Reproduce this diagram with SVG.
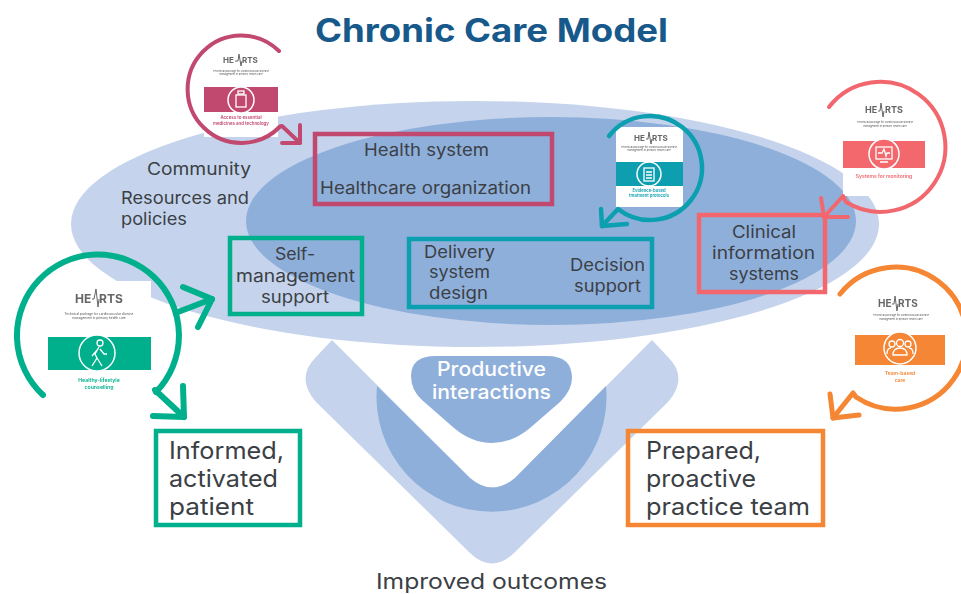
<svg xmlns="http://www.w3.org/2000/svg" width="961" height="594" viewBox="0 0 961 594">
<defs><style>
text{font-family:"Inter","Noto Sans","Liberation Sans",sans-serif;fill:#3b4045}
.b{font-size:17px}.l{font-size:24px}.w{font-size:20px;fill:#fff;font-weight:500}
.box{fill:none;stroke-width:4.5}
.arc{fill:none;stroke-linecap:round;stroke-linejoin:round}
.card{fill:#fff}
.logo{font-weight:700;fill:#666}
.sp{fill:none;stroke:#666;stroke-width:1}
.tiny{font-size:2.6px;fill:#555}
.ic{fill:none;stroke:#fff;stroke-width:1.3}
.cap{font-size:5px;font-weight:600}
.light{fill:#c5d4ec}.mid{fill:#8fafdb}
</style>
<filter id="soft" x="-5%" y="-5%" width="110%" height="110%"><feGaussianBlur stdDeviation="0.45"/></filter>
</defs>
<rect width="961" height="594" fill="#fff"/>
<g id="background">
<ellipse class="light" cx="475" cy="224" rx="404" ry="123"/>
<ellipse class="mid" cx="551" cy="221" rx="305" ry="104"/>
<path class="light" d="M332,340L470,478Q492,497 515,478L652,340L668,357Q689,378 668,402L514,553Q492,574 470,553L316,402Q295,378 316,357Z"/>
<path class="mid" d="M377,386L470,478Q492,497 515,478L606,386A115,115 0 1 1 377,386Z"/>
<path class="mid" d="M436,356H547Q572,356 572,378Q572,390 560,402L530,428Q512,443 492,443Q472,443 454,428L422,400Q411,390 411,376Q411,356 436,356Z"/>
</g>
<text x="315" y="42" font-size="32" font-weight="700" style="fill:#17598a" textLength="353" lengthAdjust="spacingAndGlyphs">Chronic Care Model</text>
<g id="card-medicines" filter="url(#soft)">
<rect class="card" x="204" y="48" width="74" height="89"/>
<text class="logo" x="223" y="63" style="font-size:8px">HE</text><polyline class="sp" points="235,61 238,61 239,54 241,66 242,61"/><text class="logo" x="242" y="63" style="font-size:8px">RTS</text>
<text class="tiny" x="241" y="72" text-anchor="middle">Technical package for cardiovascular disease</text>
<text class="tiny" x="241" y="75" text-anchor="middle">management in primary health care</text>
<rect x="204" y="87" width="74" height="25" fill="#c1496f"/>
<circle cx="241" cy="100" r="13" fill="#c1496f" stroke="#fff" stroke-width="1.5"/>
<rect class="ic" x="236" y="95" width="10" height="12"/><rect class="ic" x="238" y="91" width="6" height="3"/>
<text class="cap" x="241" y="119" text-anchor="middle" style="font-size:4.4px;fill:#c1496f">Access to essential</text>
<text class="cap" x="241" y="125" text-anchor="middle" style="font-size:4.4px;fill:#c1496f">medicines and technology</text>
</g>
<g id="card-protocols" filter="url(#soft)">
<rect class="card" x="616" y="127" width="67" height="80"/>
<text class="logo" x="634" y="141" style="font-size:8px">HE</text><polyline class="sp" points="646,139 648,139 649,132 651,144 652,139"/><text class="logo" x="652" y="141" style="font-size:8px">RTS</text>
<text class="tiny" x="649" y="148" text-anchor="middle">Technical package for cardiovascular disease</text>
<text class="tiny" x="649" y="151" text-anchor="middle">management in primary health care</text>
<rect x="616" y="162" width="67" height="24" fill="#0c9fb0"/>
<circle cx="649" cy="174" r="12" fill="#0c9fb0" stroke="#fff" stroke-width="1.5"/>
<rect class="ic" x="644" y="168" width="10" height="13"/><path class="ic" d="M646,172H652M646,175H652M646,178H652"/>
<text class="cap" x="649" y="192" text-anchor="middle" style="font-size:4.2px;fill:#0c9fb0">Evidence-based</text>
<text class="cap" x="649" y="197" text-anchor="middle" style="font-size:4.2px;fill:#0c9fb0">treatment protocols</text>
</g>
<g id="card-monitoring" filter="url(#soft)">
<rect class="card" x="843" y="97" width="82" height="99"/>
<text class="logo" x="865" y="113" style="font-size:9px">HE</text><polyline class="sp" points="878,111 880,111 881,103 883,117 884,111"/><text class="logo" x="885" y="113" style="font-size:9px">RTS</text>
<text class="tiny" x="885" y="123" text-anchor="middle">Technical package for cardiovascular disease</text>
<text class="tiny" x="885" y="127" text-anchor="middle">management in primary health care</text>
<rect x="843" y="141" width="82" height="27" fill="#f2676d"/>
<circle cx="884" cy="154" r="15" fill="#f2676d" stroke="#fff" stroke-width="1.5"/>
<rect class="ic" x="876" y="147" width="16" height="12"/><path class="ic" d="M878,153H882L884,149L886,156L887,153H890M880,162H888"/>
<text class="cap" x="884" y="178" text-anchor="middle" style="fill:#f2676d">Systems for monitoring</text>
</g>
<g id="card-lifestyle" filter="url(#soft)">
<rect class="card" x="48" y="281" width="103" height="124"/>
<text class="logo" x="75" y="303" style="font-size:12px">HE</text><polyline class="sp" points="92,299 94,299 96,289 98,307 99,299"/><text class="logo" x="99" y="303" style="font-size:12px">RTS</text>
<text class="tiny" x="99" y="315" text-anchor="middle" style="font-size:3.2px">Technical package for cardiovascular disease</text>
<text class="tiny" x="99" y="319" text-anchor="middle" style="font-size:3.2px">management in primary health care</text>
<rect x="48" y="337" width="103" height="33" fill="#00b08c"/>
<circle cx="97" cy="353" r="18" fill="#00b08c" stroke="#fff" stroke-width="1.5"/>
<circle class="ic" cx="100" cy="343" r="3"/><path class="ic" d="M99,347L95,354L97,358L92,366M97,358L102,366M98,349L92,356M100,349L104,354L107,354"/>
<text class="cap" x="99" y="382" text-anchor="middle" style="font-size:5.2px;fill:#00b08c">Healthy-lifestyle</text>
<text class="cap" x="99" y="389" text-anchor="middle" style="font-size:5.2px;fill:#00b08c">counselling</text>
</g>
<g id="card-team" filter="url(#soft)">
<rect class="card" x="855" y="287" width="90" height="96"/>
<text class="logo" x="878" y="307" style="font-size:10px">HE</text><polyline class="sp" points="892,304 894,304 895,296 897,311 898,304"/><text class="logo" x="898" y="307" style="font-size:10px">RTS</text>
<text class="tiny" x="901" y="316" text-anchor="middle">Technical package for cardiovascular disease</text>
<text class="tiny" x="901" y="320" text-anchor="middle">management in primary health care</text>
<rect x="855" y="335" width="90" height="30" fill="#f58634"/>
<circle cx="900" cy="348" r="16" fill="#f58634" stroke="#fff" stroke-width="1.5"/>
<circle class="ic" cx="900" cy="343" r="3.5"/><circle class="ic" cx="892" cy="344" r="3"/><circle class="ic" cx="908" cy="344" r="3"/><path class="ic" d="M893,355Q893,348 900,348Q907,348 907,355ZM887,354Q887,348 891,348M913,354Q913,348 909,348"/>
<text class="cap" x="900" y="375" text-anchor="middle" style="fill:#f58634">Team-based</text>
<text class="cap" x="900" y="382" text-anchor="middle" style="fill:#f58634">care</text>
</g>
<g id="connectors" class="arc">
<g stroke="#c1496f" stroke-width="4" class="arc">
<path d="M279,51A53.7,53.7 0 1 0 280,126.5L282,126L300,143"/><path d="M300,125V143H282"/></g>
<g stroke="#0c9fb0" stroke-width="4.5" class="arc">
<path d="M609,136A52,52 0 1 1 618,209L602,226"/><path d="M601,209L602,226L627,224"/></g>
<g stroke="#f2676d" stroke-width="4" class="arc">
<path d="M829,107A65,65 0 1 1 846,202L843,196L824,217"/><path d="M821,198L824,217L848,217"/></g>
<g stroke="#00b08c" stroke-width="6" class="arc">
<path d="M43,395A81,81 0 1 1 156,392L155,390L184,417"/><path d="M183,386L184,417L153,416"/>
<path d="M178,312L212,299"/><path d="M183,287L212,299L198,327"/></g>
<g stroke="#f58634" stroke-width="5" class="arc">
<path d="M840,294A71,71 0 1 1 856,397L853,393L833,418"/><path d="M830,394L833,418L859,415"/></g>
</g>
<g id="community"><text class="b" x="147" y="175" textLength="104" lengthAdjust="spacingAndGlyphs">Community</text></g>
<g id="resources"><text class="b" x="121" y="204" textLength="128" lengthAdjust="spacingAndGlyphs">Resources and</text><text class="b" x="121" y="225" textLength="66" lengthAdjust="spacingAndGlyphs">policies</text></g>
<g id="health-system"><rect class="box" x="315" y="134" width="237" height="70" stroke="#c1496f"/>
<text class="b" x="364" y="156" textLength="125" lengthAdjust="spacingAndGlyphs">Health system</text><text class="b" x="320" y="194" textLength="211" lengthAdjust="spacingAndGlyphs">Healthcare organization</text></g>
<g id="self-management"><rect class="box" x="230" y="238" width="132" height="76" stroke="#00b08c"/>
<text class="b" x="275" y="260" textLength="40" lengthAdjust="spacingAndGlyphs">Self-</text><text class="b" x="236" y="282" textLength="119" lengthAdjust="spacingAndGlyphs">management</text><text class="b" x="261" y="303" textLength="68" lengthAdjust="spacingAndGlyphs">support</text></g>
<g id="delivery"><rect class="box" x="409" y="239" width="243" height="68" stroke="#0c9fb0"/>
<text class="b" x="424" y="258" textLength="71" lengthAdjust="spacingAndGlyphs">Delivery</text><text class="b" x="429" y="278" textLength="61" lengthAdjust="spacingAndGlyphs">system</text><text class="b" x="429" y="299" textLength="59" lengthAdjust="spacingAndGlyphs">design</text>
<text class="b" x="570" y="271" textLength="75" lengthAdjust="spacingAndGlyphs">Decision</text><text class="b" x="574" y="292" textLength="67" lengthAdjust="spacingAndGlyphs">support</text></g>
<g id="clinical"><rect class="box" x="699" y="215" width="126" height="77" stroke="#f2676d"/>
<text class="b" x="732" y="238" textLength="64" lengthAdjust="spacingAndGlyphs">Clinical</text><text class="b" x="712" y="259" textLength="103" lengthAdjust="spacingAndGlyphs">information</text><text class="b" x="729" y="280" textLength="70" lengthAdjust="spacingAndGlyphs">systems</text></g>
<g id="productive"><text class="w" x="437" y="376" textLength="109" lengthAdjust="spacingAndGlyphs">Productive</text><text class="w" x="432" y="399" textLength="119" lengthAdjust="spacingAndGlyphs">interactions</text></g>
<g id="patient"><rect class="box" x="156" y="431" width="144" height="94" stroke="#00b08c"/>
<text class="l" x="169" y="459" textLength="115" lengthAdjust="spacingAndGlyphs">Informed,</text><text class="l" x="169" y="487" textLength="109" lengthAdjust="spacingAndGlyphs">activated</text><text class="l" x="169" y="515" textLength="85" lengthAdjust="spacingAndGlyphs">patient</text></g>
<g id="team"><rect class="box" x="628" y="431" width="195" height="94" stroke="#f58634"/>
<text class="l" x="646" y="459" textLength="115" lengthAdjust="spacingAndGlyphs">Prepared,</text><text class="l" x="646" y="487" textLength="110" lengthAdjust="spacingAndGlyphs">proactive</text><text class="l" x="646" y="515" textLength="164" lengthAdjust="spacingAndGlyphs">practice team</text></g>
<g id="outcomes"><text x="376" y="589" font-size="21" textLength="231" lengthAdjust="spacingAndGlyphs">Improved outcomes</text></g>
</svg>
